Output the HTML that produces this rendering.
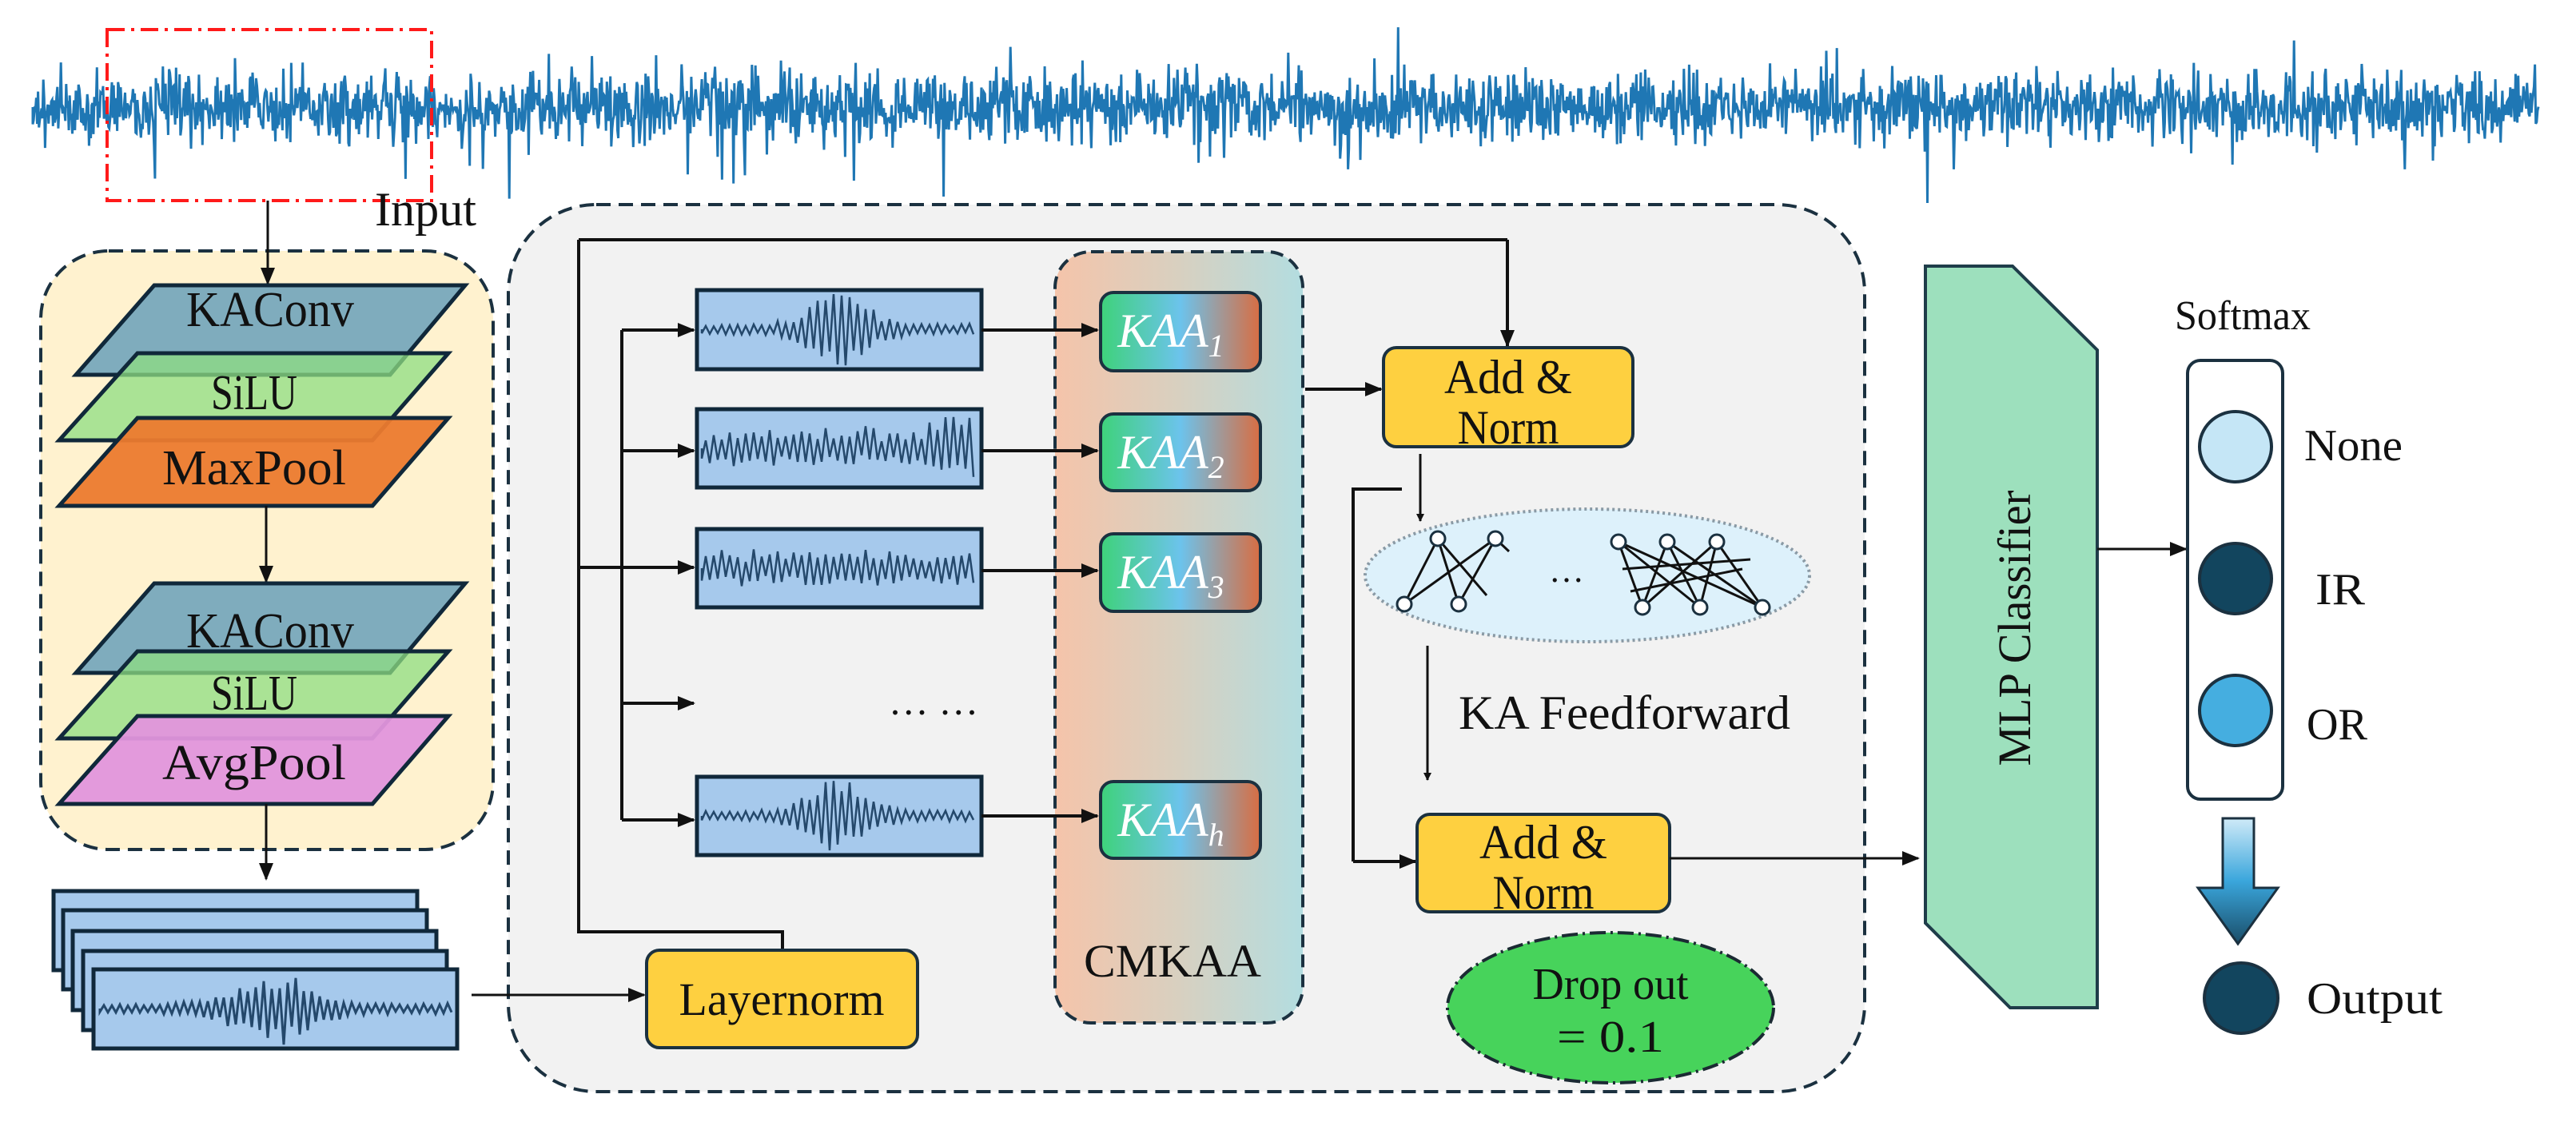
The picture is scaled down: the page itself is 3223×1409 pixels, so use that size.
<!DOCTYPE html>
<html><head><meta charset="utf-8"><style>
html,body{margin:0;padding:0;background:#fff}
svg{display:block}
text{font-family:"Liberation Serif","DejaVu Serif",serif;fill:#111}
</style></head><body>
<svg id="s" width="3223" height="1409" viewBox="0 0 3223 1409" xmlns="http://www.w3.org/2000/svg" font-family="Liberation Serif, DejaVu Serif, serif">
<defs>
<marker id="ah" markerWidth="10" markerHeight="10" refX="9" refY="5" orient="auto" markerUnits="userSpaceOnUse" viewBox="0 0 10 10"><path d="M0,0 L10,5 L0,10 z" fill="#111"/></marker>
<marker id="ab" markerWidth="22" markerHeight="22" refX="20" refY="11" orient="auto" markerUnits="userSpaceOnUse" viewBox="0 0 22 22"><path d="M0,2 L22,11 L0,20 z" fill="#111"/></marker>
<linearGradient id="cm" x1="0" y1="0" x2="1" y2="0"><stop offset="0" stop-color="#f5c4aa"/><stop offset="0.5" stop-color="#d8d0c0"/><stop offset="1" stop-color="#b3dde0"/></linearGradient>
<linearGradient id="kaa" x1="0" y1="0" x2="1" y2="0"><stop offset="0" stop-color="#3ed27a"/><stop offset="0.5" stop-color="#6cc3ec"/><stop offset="1" stop-color="#d86d42"/></linearGradient>
<linearGradient id="da" x1="0" y1="0" x2="0" y2="1"><stop offset="0" stop-color="#cfeaf8"/><stop offset="0.5" stop-color="#3aa6dc"/><stop offset="1" stop-color="#1a4d68"/></linearGradient>
</defs>

<path id="sig" d="" stroke="#1f77b4" stroke-width="3" fill="none"/>
<rect x="134" y="37" width="406" height="214" fill="none" stroke="#ff1a1a" stroke-width="4" stroke-dasharray="22,8,4,8"/>
<text x="469" y="282" font-size="60" textLength="127" lengthAdjust="spacingAndGlyphs">Input</text>

<rect x="51" y="314" width="566" height="749" rx="85" fill="#fff2cf" stroke="#1b3140" stroke-width="4" stroke-dasharray="18,10"/>
<line x1="335" y1="251" x2="335" y2="355" stroke="#111" stroke-width="3" marker-end="url(#ab)"/>
<g stroke="#10283a" stroke-width="5">
<polygon points="193,357 582,357 488,469 95,469" fill="#5f9ab8" fill-opacity="0.8"/>
<polygon points="172,442 561,442 466,551 74,551" fill="#8ede81" fill-opacity="0.75"/>
<polygon points="172,523 561,523 466,633 74,633" fill="#ec7a2e" fill-opacity="0.95"/>
</g>
<text x="338" y="408" font-size="62" text-anchor="middle" textLength="210" lengthAdjust="spacingAndGlyphs">KAConv</text>
<text x="318" y="512" font-size="62" text-anchor="middle" textLength="108" lengthAdjust="spacingAndGlyphs">SiLU</text>
<text x="318" y="606" font-size="62" text-anchor="middle" textLength="230" lengthAdjust="spacingAndGlyphs">MaxPool</text>
<line x1="333" y1="633" x2="333" y2="728" stroke="#111" stroke-width="3" marker-end="url(#ab)"/>
<g stroke="#10283a" stroke-width="5">
<polygon points="193,730 582,730 488,842 95,842" fill="#5f9ab8" fill-opacity="0.8"/>
<polygon points="172,815 561,815 466,924 74,924" fill="#8ede81" fill-opacity="0.75"/>
<polygon points="172,896 561,896 466,1006 74,1006" fill="#e295dc" fill-opacity="0.95"/>
</g>
<text x="338" y="810" font-size="62" text-anchor="middle" textLength="210" lengthAdjust="spacingAndGlyphs">KAConv</text>
<text x="318" y="888" font-size="62" text-anchor="middle" textLength="108" lengthAdjust="spacingAndGlyphs">SiLU</text>
<text x="318" y="975" font-size="62" text-anchor="middle" textLength="230" lengthAdjust="spacingAndGlyphs">AvgPool</text>
<line x1="333" y1="1006" x2="333" y2="1100" stroke="#111" stroke-width="3" marker-end="url(#ab)"/>

<g stroke="#10283a" stroke-width="5" fill="#a6c9ec">
<rect x="67" y="1115" width="455" height="99"/>
<rect x="79" y="1139" width="455" height="99"/>
<rect x="91" y="1165" width="455" height="99"/>
<rect x="104" y="1190" width="455" height="99"/>
<rect x="117" y="1213" width="455" height="99"/>
</g>
<path id="w0" d="" stroke="#24486b" stroke-width="3" fill="none"/>

<rect x="636" y="256" width="1697" height="1110" rx="110" fill="#f2f2f2" stroke="#1b3140" stroke-width="4" stroke-dasharray="18,10"/>
<line x1="590" y1="1245" x2="806" y2="1245" stroke="#111" stroke-width="3" marker-end="url(#ab)"/>
<g stroke="#111" stroke-width="4" fill="none">
<polyline points="724,300 1886,300"/>
<polyline points="724,300 724,1166 979,1166 979,1189"/>
<polyline points="778,413 778,1026"/>
<line x1="724" y1="710" x2="778" y2="710"/>
</g>
<line x1="1886" y1="300" x2="1886" y2="433" stroke="#111" stroke-width="4" marker-end="url(#ab)"/>
<g stroke="#111" stroke-width="4" marker-end="url(#ab)">
<line x1="778" y1="413" x2="868" y2="413"/>
<line x1="778" y1="564" x2="868" y2="564"/>
<line x1="778" y1="710" x2="868" y2="710"/>
<line x1="778" y1="880" x2="868" y2="880"/>
<line x1="778" y1="1026" x2="868" y2="1026"/>
</g>
<rect x="809" y="1189" width="339" height="122" rx="16" fill="#fed040" stroke="#1b3140" stroke-width="4"/>
<text x="978" y="1270" font-size="58" text-anchor="middle" textLength="257" lengthAdjust="spacingAndGlyphs">Layernorm</text>

<g stroke="#10283a" stroke-width="5" fill="#a6c9ec">
<rect x="872" y="363" width="356" height="99"/>
<rect x="872" y="512" width="356" height="98"/>
<rect x="872" y="662" width="356" height="98"/>
<rect x="872" y="972" width="356" height="98"/>
</g>
<path id="w1" d="" stroke="#24486b" stroke-width="2.5" fill="none"/>
<path id="w2" d="" stroke="#24486b" stroke-width="2.5" fill="none"/>
<path id="w3" d="" stroke="#24486b" stroke-width="2.5" fill="none"/>
<path id="w4" d="" stroke="#24486b" stroke-width="2.5" fill="none"/>
<text x="1168" y="894" font-size="50" text-anchor="middle">… …</text>

<rect x="1320" y="315" width="310" height="965" rx="45" fill="url(#cm)" stroke="#1b3140" stroke-width="4" stroke-dasharray="16,9"/>
<g stroke="#111" stroke-width="4" marker-end="url(#ab)">
<line x1="1228" y1="413" x2="1373" y2="413"/>
<line x1="1228" y1="564" x2="1373" y2="564"/>
<line x1="1228" y1="714" x2="1373" y2="714"/>
<line x1="1228" y1="1021" x2="1373" y2="1021"/>
</g>
<g stroke="#1b3140" stroke-width="4" fill="url(#kaa)">
<rect x="1377" y="366" width="200" height="98" rx="16"/>
<rect x="1377" y="518" width="200" height="96" rx="16"/>
<rect x="1377" y="668" width="200" height="97" rx="16"/>
<rect x="1377" y="978" width="200" height="96" rx="16"/>
</g>
<g font-size="60" font-style="italic" text-anchor="middle">
<text x="1465" y="434" style="fill:#fff">KAA<tspan font-size="40" dy="12">1</tspan></text>
<text x="1465" y="586" style="fill:#fff">KAA<tspan font-size="40" dy="12">2</tspan></text>
<text x="1465" y="736" style="fill:#fff">KAA<tspan font-size="40" dy="12">3</tspan></text>
<text x="1465" y="1046" style="fill:#fff">KAA<tspan font-size="40" dy="12">h</tspan></text>
</g>
<text x="1467" y="1222" font-size="58" text-anchor="middle" textLength="222" lengthAdjust="spacingAndGlyphs">CMKAA</text>

<line x1="1633" y1="487" x2="1728" y2="487" stroke="#111" stroke-width="4" marker-end="url(#ab)"/>
<rect x="1731" y="435" width="312" height="124" rx="16" fill="#fed040" stroke="#1b3140" stroke-width="4"/>
<text x="1887" y="492" font-size="60" text-anchor="middle" textLength="160" lengthAdjust="spacingAndGlyphs">Add &amp;</text>
<text x="1887" y="555" font-size="60" text-anchor="middle" textLength="127" lengthAdjust="spacingAndGlyphs">Norm</text>
<line x1="1777" y1="568" x2="1777" y2="652" stroke="#111" stroke-width="3" marker-end="url(#ah)"/>
<polyline points="1754,612 1693,612 1693,1078" stroke="#111" stroke-width="4" fill="none"/>
<line x1="1693" y1="1078" x2="1771" y2="1078" stroke="#111" stroke-width="4" marker-end="url(#ab)"/>

<ellipse cx="1986" cy="720" rx="278" ry="83" fill="#ddf1fb" stroke="#8a9aa5" stroke-width="4" stroke-dasharray="3,4"/>
<g stroke="#111" stroke-width="3" fill="none">
<line x1="1799" y1="674" x2="1757" y2="756"/><line x1="1799" y1="674" x2="1825" y2="756"/><line x1="1799" y1="674" x2="1860" y2="745"/>
<line x1="1871" y1="674" x2="1757" y2="756"/><line x1="1871" y1="674" x2="1825" y2="756"/><line x1="1871" y1="674" x2="1888" y2="690"/>
<line x1="2025" y1="678" x2="2055" y2="760"/><line x1="2025" y1="678" x2="2127" y2="760"/><line x1="2025" y1="678" x2="2205" y2="760"/>
<line x1="2086" y1="678" x2="2055" y2="760"/><line x1="2086" y1="678" x2="2127" y2="760"/><line x1="2086" y1="678" x2="2205" y2="760"/>
<line x1="2148" y1="678" x2="2055" y2="760"/><line x1="2148" y1="678" x2="2127" y2="760"/><line x1="2148" y1="678" x2="2205" y2="760"/>
<line x1="2030" y1="712" x2="2190" y2="700"/><line x1="2040" y1="740" x2="2180" y2="712"/>
</g>
<g stroke="#1b3140" stroke-width="3" fill="#fff">
<circle cx="1799" cy="674" r="9"/><circle cx="1871" cy="674" r="9"/><circle cx="1757" cy="756" r="9"/><circle cx="1825" cy="756" r="9"/>
<circle cx="2025" cy="678" r="9"/><circle cx="2086" cy="678" r="9"/><circle cx="2148" cy="678" r="9"/>
<circle cx="2055" cy="760" r="9"/><circle cx="2127" cy="760" r="9"/><circle cx="2205" cy="760" r="9"/>
</g>
<text x="1960" y="728" font-size="44" text-anchor="middle">…</text>
<line x1="1786" y1="808" x2="1786" y2="976" stroke="#111" stroke-width="3" marker-end="url(#ah)"/>
<text x="1825" y="912" font-size="60" textLength="415" lengthAdjust="spacingAndGlyphs">KA Feedforward</text>

<rect x="1773" y="1019" width="316" height="122" rx="16" fill="#fed040" stroke="#1b3140" stroke-width="4"/>
<text x="1931" y="1074" font-size="60" text-anchor="middle" textLength="160" lengthAdjust="spacingAndGlyphs">Add &amp;</text>
<text x="1931" y="1137" font-size="60" text-anchor="middle" textLength="127" lengthAdjust="spacingAndGlyphs">Norm</text>
<ellipse cx="2015" cy="1261" rx="204" ry="94" fill="#47d35b" stroke="#1b2a33" stroke-width="4" stroke-dasharray="20,6,3,6"/>
<text x="2015" y="1250" font-size="56" text-anchor="middle" textLength="195" lengthAdjust="spacingAndGlyphs">Drop out</text>
<text x="2015" y="1316" font-size="56" text-anchor="middle" textLength="134" lengthAdjust="spacingAndGlyphs">= 0.1</text>

<line x1="2089" y1="1074" x2="2400" y2="1074" stroke="#111" stroke-width="3" marker-end="url(#ab)"/>

<polygon points="2409,333 2518,333 2624,438 2624,1261 2515,1261 2409,1155" fill="#9de0bd" stroke="#1f3d4a" stroke-width="4"/>
<text transform="translate(2540,786) rotate(-90)" font-size="58" text-anchor="middle" textLength="345" lengthAdjust="spacingAndGlyphs">MLP Classifier</text>
<line x1="2624" y1="687" x2="2735" y2="687" stroke="#111" stroke-width="3" marker-end="url(#ab)"/>

<text x="2806" y="412" font-size="52" text-anchor="middle" textLength="170" lengthAdjust="spacingAndGlyphs">Softmax</text>
<rect x="2737" y="451" width="119" height="549" rx="16" fill="#fff" stroke="#1b3140" stroke-width="4"/>
<ellipse cx="2797" cy="559" rx="45" ry="44" fill="#c5e6f6" stroke="#1b3140" stroke-width="4"/>
<ellipse cx="2797" cy="724" rx="45" ry="44" fill="#12455e" stroke="#1b3140" stroke-width="4"/>
<ellipse cx="2797" cy="889" rx="45" ry="44" fill="#45aee0" stroke="#1b3140" stroke-width="4"/>
<text x="2883" y="576" font-size="56" textLength="123" lengthAdjust="spacingAndGlyphs">None</text>
<text x="2897" y="756" font-size="56" textLength="62" lengthAdjust="spacingAndGlyphs">IR</text>
<text x="2886" y="925" font-size="56" textLength="76" lengthAdjust="spacingAndGlyphs">OR</text>
<polygon points="2781,1024 2820,1024 2820,1111 2850,1111 2800,1181 2750,1111 2781,1111" fill="url(#da)" stroke="#1b3140" stroke-width="3"/>
<ellipse cx="2804" cy="1249" rx="46" ry="44" fill="#12455e" stroke="#1b3140" stroke-width="4"/>
<text x="2886" y="1268" font-size="56" textLength="170" lengthAdjust="spacingAndGlyphs">Output</text>
</svg>
<script>
(function(){
var seed=12345;function r(){seed=(seed*1103515245+12345)%2147483648;return seed/2147483648;}
function g(){return (r()+r()+r()+r()-2)/1.15;}
var d="M41,134";
for(var x=41;x<3176;x+=1.1){var a=g()*42;if(r()<0.06)a*=2.0;if(Math.abs(x-1181)<0.6)a=112;if(a>120)a=120;if(a<-105)a=-105;d+=" L"+x.toFixed(1)+","+(134+a).toFixed(1);}
document.getElementById("sig").setAttribute("d",d);
function wave(id,x0,x1,yc,type){var s="M"+x0+","+yc;var n=0;var mid=(x0+x1)/2;
for(var x=x0;x<=x1;x+=5){n++;var env;if(type==0){var t=(x-mid)/(x1-x0);env=7+40*Math.exp(-t*t*50);}else{env=14+16*r();if(type==2&&x>x1-60)env=40;}
var y=yc+(n%2?1:-1)*env*(0.5+0.5*r());s+=" L"+x+","+y.toFixed(1);}
document.getElementById(id).setAttribute("d",s);}
wave("w0",125,565,1262,0);
wave("w1",878,1222,412,0);
wave("w2",878,1222,561,2);
wave("w3",878,1222,711,1);
wave("w4",878,1222,1021,0);
})();
</script>
</body></html>
